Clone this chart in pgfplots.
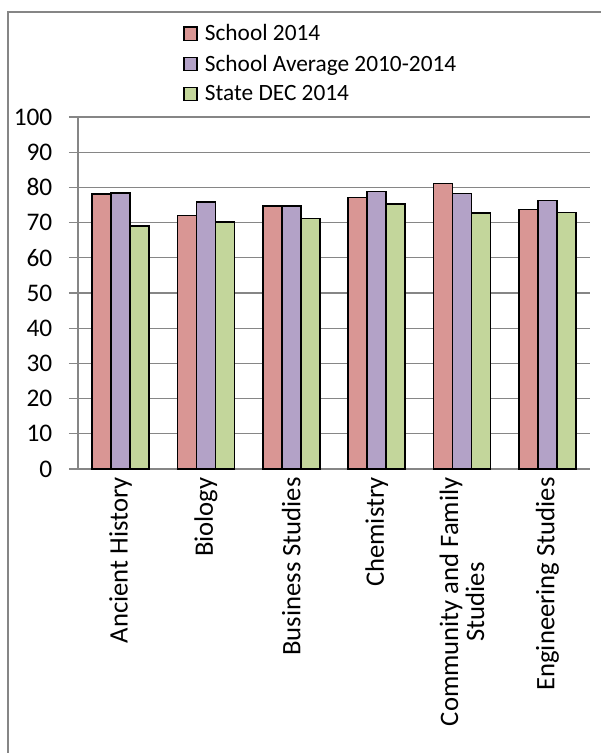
\documentclass[border=0pt]{standalone}
\usepackage{pgfplots}
\pgfplotsset{compat=1.18}
\usepackage{fontspec}
\setmainfont{Carlito}

\definecolor{redbar}{RGB}{217,150,148}
\definecolor{purplebar}{RGB}{179,162,199}
\definecolor{greenbar}{RGB}{195,214,155}
\definecolor{axisgray}{RGB}{134,134,134}

\newcommand{\legfont}{\fontsize{17.5}{20}\selectfont}
\newcommand{\yfont}{\fontsize{19}{21}\selectfont}
\newcommand{\xfont}{\fontsize{20}{19.5}\selectfont}

\begin{document}
\begin{tikzpicture}
% page area and the chart frame (left and top edges)
\useasboundingbox (0,0) rectangle (450pt,-564.75pt);
\draw[axisgray, line width=0.9pt] (6pt,-580pt) -- (6pt,-9pt) -- (470pt,-9pt);
\begin{axis}[
  at={(58.5pt,-351.75pt)}, anchor=south west,
  scale only axis, width=384pt, height=264pt,
  ybar=0pt, bar width=14.25pt,
  xmin=-0.5, xmax=5.5, ymin=0, ymax=100,
  axis x line*=bottom, axis y line*=left,
  axis line style={axisgray, line width=0.9pt, -},
  tick align=outside,
  xtick={0,...,5},
  xticklabels={Ancient History, Biology, Business Studies, Chemistry,
    {Community and Family\\Studies}, Engineering Studies},
  xtick style={draw=none},
  minor xtick={-0.5,0.5,...,5.5},
  minor x tick style={axisgray, line width=0.9pt},
  minor tick length=6pt,
  ytick={0,10,...,100},
  ytick style={axisgray, line width=0.9pt},
  major tick length=6.75pt,
  ymajorgrids, major grid style={axisgray, line width=0.9pt},
  /pgf/number format/assume math mode=true,
  yticklabel style={font=\yfont, anchor=east, xshift=-9pt},
  xticklabel style={font=\xfont, rotate=90, anchor=east, align=center},
  xticklabel shift=-4pt,
  legend style={draw=none, fill=none, at={(axis description cs:0.205,1.271)},
    anchor=north west, font=\legfont, row sep=5.25pt, column sep=3.5pt,
    inner sep=0pt, nodes={inner sep=2pt}},
  legend cell align=left,
  legend image code/.code={\draw[#1, draw=black, line width=1pt] (0pt,-4.9pt) rectangle (9.75pt,4.9pt);},
  every axis plot/.append style={draw=black, line width=1.3pt},
]
\addplot[fill=redbar] coordinates {(0,78.1) (1,72.0) (2,74.8) (3,77.1) (4,81.1) (5,73.7)};
\addplot[fill=purplebar] coordinates {(0,78.4) (1,75.8) (2,74.8) (3,78.8) (4,78.3) (5,76.3)};
\addplot[fill=greenbar] coordinates {(0,69.1) (1,70.2) (2,71.2) (3,75.3) (4,72.7) (5,72.9)};
\legend{School 2014, School Average 2010-2014, State DEC 2014}
\end{axis}
\end{tikzpicture}
\end{document}
